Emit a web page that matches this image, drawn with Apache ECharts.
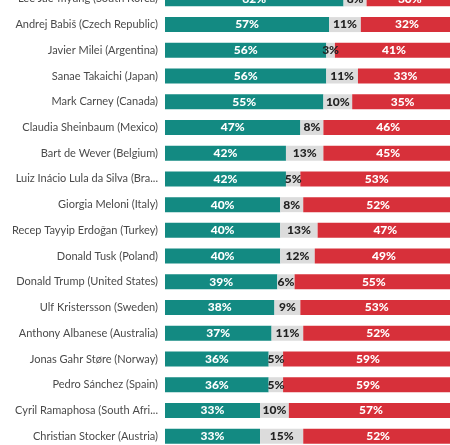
<!DOCTYPE html>
<html>
<head>
<meta charset="utf-8">
<script src="https://cdn.jsdelivr.net/npm/echarts@6/dist/echarts.min.js"></script>
<style>
html,body{margin:0;padding:0;background:#fff;}
#chart{width:450px;height:445px;}
</style>
</head>
<body>
<div id="chart"></div>
<script>
const leaders = [
  "Lee Jae-myung (South Korea)",
  "Andrej Babiš (Czech Republic)",
  "Javier Milei (Argentina)",
  "Sanae Takaichi (Japan)",
  "Mark Carney (Canada)",
  "Claudia Sheinbaum (Mexico)",
  "Bart de Wever (Belgium)",
  "Luiz Inácio Lula da Silva (Bra...",
  "Giorgia Meloni (Italy)",
  "Recep Tayyip Erdoğan (Turkey)",
  "Donald Tusk (Poland)",
  "Donald Trump (United States)",
  "Ulf Kristersson (Sweden)",
  "Anthony Albanese (Australia)",
  "Jonas Gahr Støre (Norway)",
  "Pedro Sánchez (Spain)",
  "Cyril Ramaphosa (South Afri...",
  "Christian Stocker (Austria)"
];
const approve    = [62, 57, 56, 56, 55, 47, 42, 42, 40, 40, 40, 39, 38, 37, 36, 36, 33, 33];
const dontKnow   = [ 8, 11,  3, 11, 10,  8, 13,  5,  8, 13, 12,  6,  9, 11,  5,  5, 10, 15];
const disapprove = [30, 32, 41, 33, 35, 46, 45, 53, 52, 47, 49, 55, 53, 52, 59, 59, 57, 52];

const chart = echarts.init(document.getElementById('chart'));
const lbl = (color) => ({
  show: true,
  position: 'inside',
  formatter: p => p.value + '%',
  color: color,
  fontFamily: 'Lato, "Open Sans", sans-serif',
  fontWeight: 900,
  fontSize: 12
});
chart.setOption({
  animation: false,
  grid: { left: 165, right: -3, top: -14, bottom: -4, containLabel: false, outerBoundsMode: 'none' },
  xAxis: { type: 'value', min: 0, max: 100, show: false },
  yAxis: {
    type: 'category',
    data: leaders,
    inverse: true,
    axisLine: { show: false },
    axisTick: { show: false },
    axisLabel: {
      color: '#4a4a4a',
      fontFamily: 'Lato, "Open Sans", sans-serif',
      fontSize: 11,
      margin: 7
    }
  },
  series: [
    { name: 'Approve', type: 'bar', stack: 't', barWidth: 15, data: approve,
      itemStyle: { color: '#138a82' }, label: lbl('#fff') },
    { name: "Don't know", type: 'bar', stack: 't', barWidth: 15, data: dontKnow,
      itemStyle: { color: '#dcdcdc' }, label: lbl('#222') },
    { name: 'Disapprove', type: 'bar', stack: 't', barWidth: 15, data: disapprove,
      itemStyle: { color: '#d7303a' }, label: lbl('#fff') }
  ]
});
</script>
</body>
</html>
